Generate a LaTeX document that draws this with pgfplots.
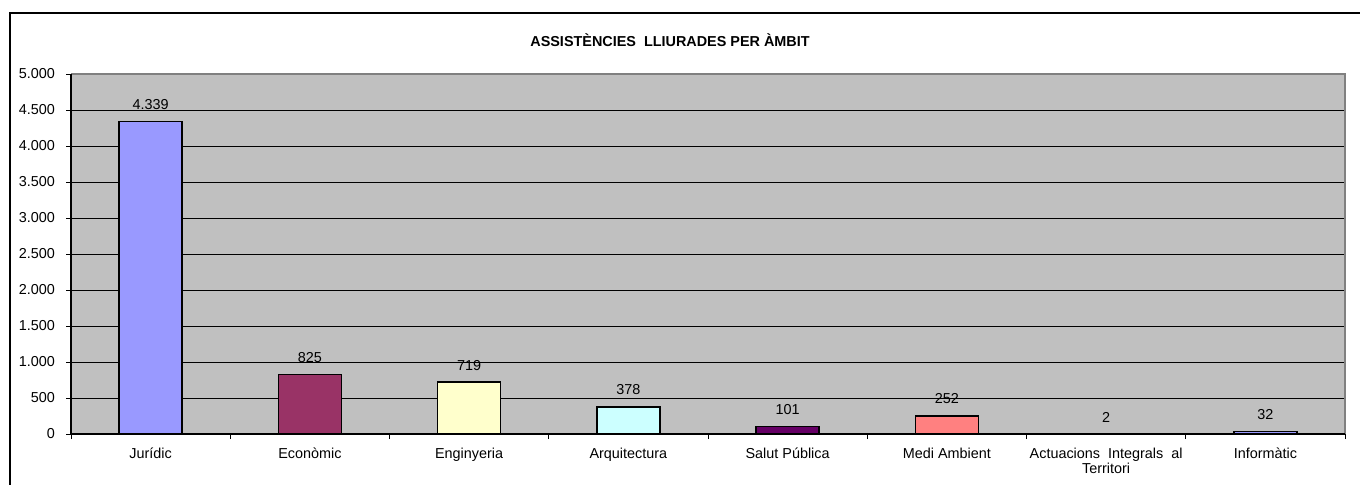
\documentclass[border=0pt]{standalone}
\usepackage{pgfplots}
\pgfplotsset{compat=1.18}
\usepackage{fontspec}
\setmainfont{Liberation Sans}
\definecolor{bgc}{HTML}{C0C0C0}
\definecolor{c1}{HTML}{9999FF}
\definecolor{c2}{HTML}{993366}
\definecolor{c3}{HTML}{FFFFCC}
\definecolor{c4}{HTML}{CCFFFF}
\definecolor{c5}{HTML}{660066}
\definecolor{c6}{HTML}{FF8080}
\definecolor{c7}{HTML}{000000}
\definecolor{c8}{HTML}{9999FF}
\definecolor{gline}{HTML}{808080}
\begin{document}
\begin{tikzpicture}
\useasboundingbox (0pt,0pt) rectangle (680pt,242pt);
\fill[white] (0pt,0pt) rectangle (680pt,242pt);
\draw[line width=0.75pt] (5pt,-20pt) -- (5pt,235.5pt) -- (700pt,235.5pt);
\node[font=\fontsize{7.2}{8}\selectfont\bfseries] at (335pt,222pt) {ASSISTÈNCIES\ \ LLIURADES PER ÀMBIT};
\begin{axis}[
  at={(35.5pt,25pt)}, anchor=south west,
  scale only axis, width=637pt, height=180pt,
  xmin=-0.5, xmax=7.5, ymin=0, ymax=5000,
  ytick={0,500,...,4500},
  extra y ticks={5000}, extra y tick style={grid=none},
  xtick={0,...,7},
  xticklabels={Jurídic,Econòmic,Enginyeria,Arquitectura,Salut Pública,Medi Ambient,{Actuacions\ \ Integrals\ \ al\\Territori},Informàtic},
  minor xtick={-0.5,0.5,...,7.5},
  xtick pos=bottom, ytick pos=left,
  major x tick style={draw=none},
  tick align=outside,
  major tick length=2.5pt, minor tick length=2.5pt,
  tick style={black, line width=0.5pt},
  ymajorgrids, grid style={black, line width=0.5pt},
  axis line style={draw=none},
  axis background/.style={fill=bgc},
  /pgf/number format/.cd, 1000 sep={.}, assume math mode=true, /pgfplots/.cd,
  ticklabel style={font=\fontsize{7.2}{7.6}\selectfont},
  xticklabel style={align=center, anchor=north, yshift=-1pt},
  yticklabel style={xshift=-2pt},
  ybar, bar width=31.5pt, bar shift=0pt,
  every axis plot/.append style={draw=black, line width=0.75pt},
  nodes near coords,
  every node near coord/.append style={font=\fontsize{7.2}{8}\selectfont, anchor=south, inner sep=0pt, yshift=5.5pt, black},
  clip=false,
]
\addplot[fill=c1] coordinates {(0,4339)};
\addplot[fill=c2] coordinates {(1,825)};
\addplot[fill=c3] coordinates {(2,719)};
\addplot[fill=c4] coordinates {(3,378)};
\addplot[fill=c5] coordinates {(4,101)};
\addplot[fill=c6] coordinates {(5,252)};
\addplot[fill=c7] coordinates {(6,2)};
\addplot[fill=c8] coordinates {(7,32)};
\draw[gline, line width=1.2pt] (rel axis cs:0,1) -- (rel axis cs:1,1) -- (rel axis cs:1,0);
\draw[black, line width=0.6pt] (rel axis cs:0,1) -- (rel axis cs:0,0) -- (rel axis cs:1,0);
\end{axis}
\end{tikzpicture}
\end{document}
